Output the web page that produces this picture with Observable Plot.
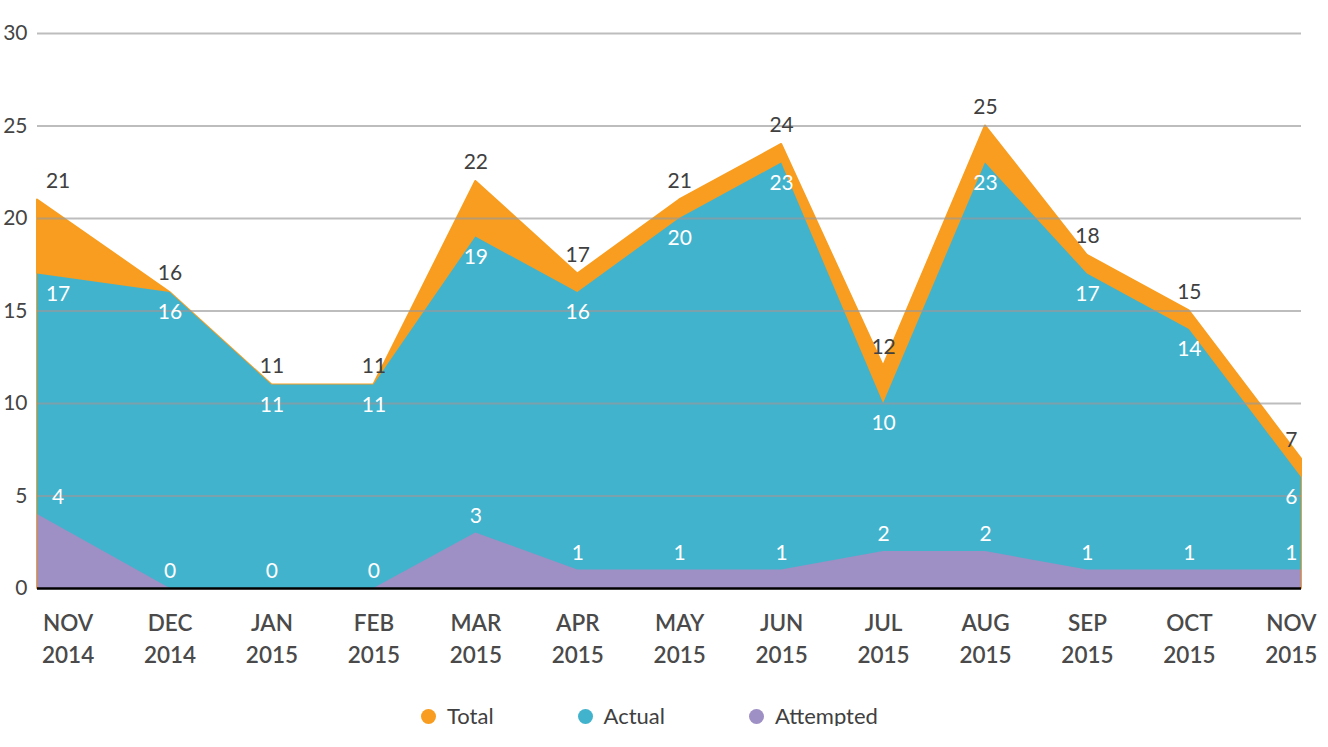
<!DOCTYPE html>
<html>
<head>
<meta charset="utf-8">
<script src="https://cdn.jsdelivr.net/npm/d3@7"></script>
<script src="https://cdn.jsdelivr.net/npm/@observablehq/plot@0.6"></script>
<style>
  html, body { margin: 0; padding: 0; background: #fff; }
  body { width: 1328px; font-family: Lato, "Open Sans", sans-serif; }
  #legend {
    display: flex; align-items: center; justify-content: flex-start;
    gap: 84px; margin-top: 16px; height: 20px; line-height: 20px;
    padding-left: 421px;
    font-size: 22px; color: #404040;
  }
  #legend .item { display: flex; align-items: center; gap: 11px; }
  #legend .dot { width: 15px; height: 15px; border-radius: 50%; display: inline-block; }
</style>
</head>
<body>
<div id="chart"></div>
<div id="legend"></div>
<script>
// Monthly counts, November 2014 – November 2015
const months = ["NOV", "DEC", "JAN", "FEB", "MAR", "APR", "MAY", "JUN", "JUL", "AUG", "SEP", "OCT", "NOV"];
const years = ["2014", "2014", "2015", "2015", "2015", "2015", "2015", "2015", "2015", "2015", "2015", "2015", "2015"];
const total = [21, 16, 11, 11, 22, 17, 21, 24, 12, 25, 18, 15, 7];
const actual = [17, 16, 11, 11, 19, 16, 20, 23, 10, 23, 17, 14, 6];
const attempted = [4, 0, 0, 0, 3, 1, 1, 1, 2, 2, 1, 1, 1];
const yTicks = [0, 5, 10, 15, 20, 25, 30];

const seriesNames = ["Total", "Actual", "Attempted"];
const colors = ["#F89D1F", "#42B3CD", "#9E8FC4"];

// Category index domain; the areas run out to the plot edges at both ends
const xDomain = [-0.3, 12.1];
const n = months.length;
const rows = months.map((m, i) => ({
  i,
  pos: i === 0 ? xDomain[0] : i === n - 1 ? xDomain[1] : i,
  total: total[i],
  actual: actual[i],
  attempted: attempted[i]
}));

// Value labels: the first month's labels sit a little left of its category centre
function valueLabels(key, dy, fill) {
  const opts = {x: "i", y: key, text: d => String(d[key]), dy, fill, fontSize: 21, fontFamily: "Lato, sans-serif"};
  return [
    Plot.text(rows.filter(d => d.i === 0), {...opts, dx: -10}),
    Plot.text(rows.filter(d => d.i !== 0), opts)
  ];
}

const chart = Plot.plot({
  width: 1328,
  height: 690,
  marginLeft: 37,
  marginRight: 27,
  marginTop: 33,
  marginBottom: 102,
  style: {fontFamily: "Lato, sans-serif", background: "#fff"},
  x: {type: "linear", domain: xDomain},
  y: {domain: [0, 30]},
  marks: [
    Plot.areaY(rows, {x: "pos", y1: 0, y2: "total", fill: colors[0], stroke: colors[0], strokeWidth: 2}),
    Plot.areaY(rows, {x: "pos", y1: 0, y2: "actual", fill: colors[1]}),
    Plot.areaY(rows, {x: "pos", y1: 0, y2: "attempted", fill: colors[2]}),
    Plot.gridY(yTicks.filter(d => d > 0), {stroke: "#9a9a9a", strokeOpacity: 0.65, strokeWidth: 2}),
    Plot.ruleY([0], {stroke: "#000", strokeWidth: 2.5}),
    Plot.axisY({ticks: yTicks, tickSize: 0, tickPadding: 10, fontSize: 21, fill: "#454545"}),
    Plot.axisX({
      ticks: d3.range(n),
      tickFormat: i => `${months[i]}\n${years[i]}`,
      tickSize: 0,
      tickPadding: 20,
      lineHeight: 1.42,
      fontSize: 22.5,
      fontWeight: 600,
      fill: "#4a4a4a"
    }),
    ...valueLabels("total", -19, "#404040"),
    ...valueLabels("actual", 20, "#fff"),
    ...valueLabels("attempted", -17, "#fff")
  ]
});
document.getElementById("chart").append(chart);

// Legend
const legend = document.getElementById("legend");
seriesNames.forEach((name, k) => {
  const item = document.createElement("span");
  item.className = "item";
  const dot = document.createElement("span");
  dot.className = "dot";
  dot.style.background = colors[k];
  const label = document.createElement("span");
  label.textContent = name;
  item.append(dot, label);
  legend.append(item);
});
</script>
</body>
</html>
